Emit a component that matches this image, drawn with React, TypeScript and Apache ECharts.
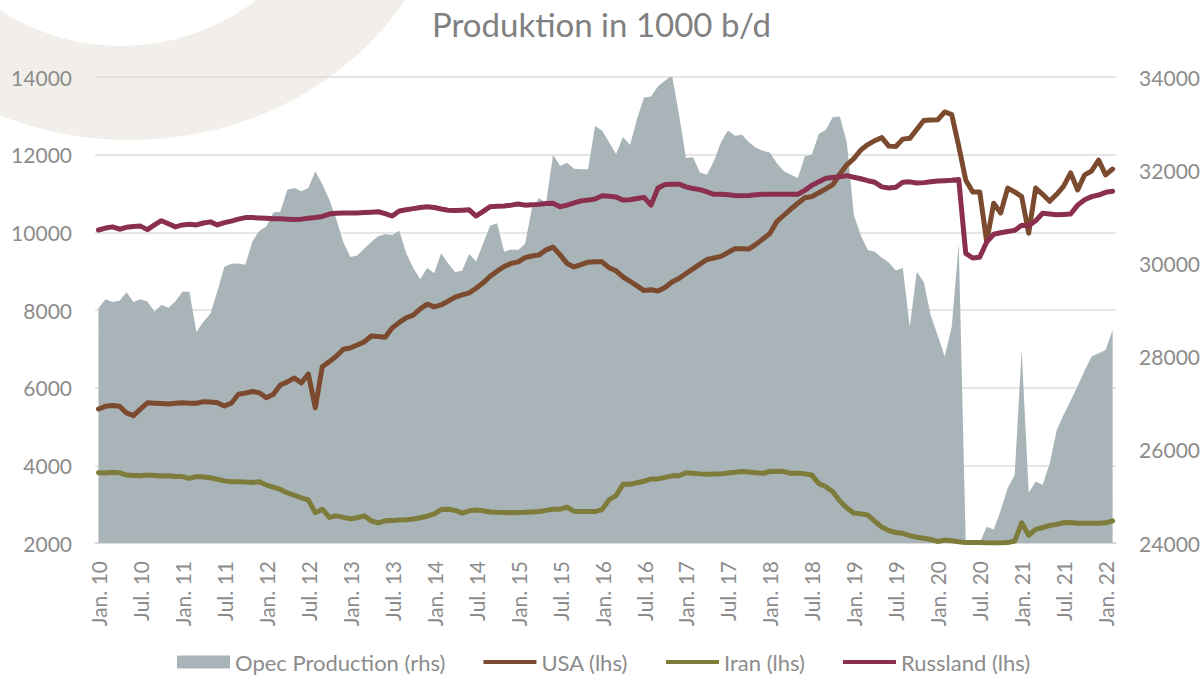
import React, { useEffect, useRef } from "react";
import * as echarts from "echarts";

const monthAbbr = ["Jan.", "Feb.", "Mrz.", "Apr.", "Mai", "Jun.", "Jul.", "Aug.", "Sep.", "Okt.", "Nov.", "Dez."];
const startYear = 10;
const monthCount = 146; // Jan 2010 .. Feb 2022
const categories: string[] = [];
for (let i = 0; i < monthCount; i++) {
  categories.push(`${monthAbbr[i % 12]} ${startYear + Math.floor(i / 12)}`);
}

const titleText = "Produktion in 1000 b/d";
const seriesNames = ["Opec Production (rhs)", "USA (lhs)", "Iran (lhs)", "Russland (lhs)"];

const opec = [
  29040, 29230, 29170, 29200, 29380, 29170, 29230, 29180, 28960, 29110,
  29050, 29190, 29390, 29390, 28530, 28750, 28920, 29400, 29930, 29990,
  30000, 29970, 30470, 30700, 30790, 31090, 31110, 31580, 31620, 31550,
  31620, 31980, 31700, 31370, 30950, 30460, 30140, 30170, 30320, 30460,
  30580, 30630, 30610, 30700, 30220, 29900, 29660, 29900, 29790, 30220,
  30000, 29810, 29850, 30200, 30040, 30430, 30810, 30860, 30250, 30300,
  30290, 30420, 31200, 31400, 31300, 32330, 32090, 32160, 32030, 32020,
  32020, 32950, 32850, 32600, 32350, 32710, 32540, 33100, 33560, 33580,
  33800, 33920, 34040, 33200, 32260, 32280, 31950, 31900, 32200, 32600,
  32850, 32740, 32760, 32600, 32480, 32420, 32380, 32150, 31980, 31900,
  31830, 32300, 32330, 32780, 32860, 33140, 33150, 32600, 31040, 30600,
  30290, 30250, 30120, 30020, 29850, 29900, 28640, 29820, 29600, 28890,
  28450, 28000, 28640, 30430, 24000, 24000, 24000, 24350, 24290, 24700,
  25180, 25460, 28140, 25080, 25320, 25250, 25700, 26420, 26750, 27050,
  27370, 27700, 28000, 28070, 28140, 28570,
];

const usa = [
  5450, 5520, 5540, 5520, 5350, 5280, 5450, 5610, 5600, 5590,
  5580, 5600, 5610, 5600, 5600, 5640, 5630, 5610, 5530, 5600,
  5830, 5860, 5900, 5870, 5740, 5830, 6070, 6150, 6250, 6120,
  6350, 5480, 6540, 6670, 6810, 6990, 7020, 7100, 7180, 7330,
  7320, 7300, 7540, 7680, 7800, 7870, 8030, 8150, 8080, 8130,
  8230, 8330, 8390, 8440, 8560, 8700, 8870, 9000, 9120, 9200,
  9240, 9350, 9390, 9420, 9550, 9620, 9420, 9200, 9110, 9170,
  9230, 9240, 9240, 9090, 9010, 8850, 8740, 8620, 8500, 8520,
  8490, 8580, 8720, 8810, 8940, 9060, 9180, 9300, 9340, 9380,
  9480, 9580, 9580, 9570, 9690, 9830, 9970, 10280, 10440, 10600,
  10750, 10890, 10920, 11020, 11120, 11230, 11500, 11740, 11900, 12120,
  12260, 12360, 12440, 12220, 12210, 12400, 12420, 12650, 12880, 12890,
  12900, 13100, 13030, 12220, 11350, 11040, 11040, 9760, 10750, 10500,
  11140, 11040, 10920, 9980, 11140, 10980, 10800, 10980, 11190, 11530,
  11090, 11480, 11580, 11860, 11480, 11630,
];

const iran = [
  3810, 3800, 3820, 3810, 3750, 3740, 3730, 3750, 3740, 3725,
  3730, 3710, 3710, 3665, 3710, 3700, 3680, 3640, 3600, 3580,
  3575, 3570, 3560, 3580, 3490, 3440, 3380, 3290, 3230, 3160,
  3110, 2780, 2870, 2660, 2700, 2660, 2625, 2650, 2700, 2570,
  2520, 2570, 2580, 2590, 2600, 2620, 2650, 2690, 2750, 2860,
  2870, 2840, 2770, 2830, 2850, 2830, 2800, 2790, 2785, 2780,
  2785, 2790, 2800, 2810, 2840, 2870, 2870, 2920, 2815, 2810,
  2810, 2810, 2860, 3110, 3220, 3510, 3510, 3550, 3590, 3650,
  3650, 3690, 3730, 3730, 3810, 3795, 3780, 3770, 3775, 3780,
  3805, 3820, 3840, 3830, 3810, 3795, 3840, 3850, 3840, 3790,
  3800, 3780, 3750, 3530, 3450, 3320, 3080, 2900, 2770, 2750,
  2720, 2560, 2410, 2320, 2270, 2250, 2190, 2150, 2120, 2090,
  2040, 2075, 2060, 2030, 2010, 2010, 2010, 2000, 2000, 2000,
  2010, 2050, 2520, 2200, 2350, 2400, 2450, 2480, 2520, 2525,
  2510, 2510, 2510, 2510, 2520, 2570,
];

const russland = [
  10060, 10110, 10140, 10080, 10130, 10150, 10160, 10070, 10190, 10300,
  10220, 10140, 10190, 10210, 10190, 10240, 10270, 10190, 10250, 10290,
  10340, 10380, 10380, 10370, 10360, 10350, 10350, 10340, 10330, 10340,
  10360, 10380, 10410, 10470, 10490, 10500, 10500, 10500, 10510, 10520,
  10530, 10480, 10420, 10550, 10580, 10610, 10640, 10660, 10640, 10600,
  10570, 10560, 10570, 10580, 10420, 10540, 10660, 10670, 10680, 10700,
  10730, 10700, 10710, 10720, 10740, 10750, 10660, 10700, 10760, 10810,
  10830, 10860, 10940, 10930, 10910, 10830, 10840, 10870, 10900, 10700,
  11140, 11230, 11240, 11240, 11170, 11130, 11100, 11040, 10980, 10980,
  10970, 10950, 10940, 10950, 10970, 10980, 10980, 10980, 10980, 10980,
  10980, 11080, 11210, 11300, 11390, 11410, 11430, 11460, 11420, 11380,
  11330, 11290, 11170, 11140, 11160, 11290, 11300, 11270, 11280, 11300,
  11320, 11330, 11340, 11360, 9460, 9340, 9360, 9750, 9950, 9990,
  10020, 10050, 10180, 10170, 10300, 10490, 10470, 10450, 10460, 10470,
  10700, 10840, 10920, 10960, 11030, 11060,
];

const FONT = "Lato, 'Liberation Sans', sans-serif";
const GREY_TEXT = "#8c8c8c";
const LINE_ICON = "path://M0,0 M0,4.5 L53,4.5 L53,8.5 L0,8.5 Z M53,13";

export default function App() {
  const ref = useRef<HTMLDivElement>(null);
  useEffect(() => {
    if (!ref.current) return;
    const chart = echarts.init(ref.current, undefined, { renderer: "svg" });
    const lineSeries = (name: string, data: number[], color: string) => ({
      name,
      type: "line",
      data,
      yAxisIndex: 0,
      symbol: "none",
      showSymbol: false,
      itemStyle: { color },
      lineStyle: { color, width: 5, cap: "round", join: "round" },
      z: 3,
    });
    chart.setOption({
      animation: false,
      backgroundColor: "#ffffff",
      textStyle: { fontFamily: FONT },
      graphic: [
        {
          type: "ellipse",
          z: -10,
          silent: true,
          shape: { cx: 130, cy: -152, rx: 322, ry: 292 },
          style: { fill: "#f2efeb" },
        },
        {
          type: "circle",
          z: -9,
          silent: true,
          shape: { cx: 121, cy: -176, r: 222 },
          style: { fill: "#ffffff" },
        },
      ],
      title: {
        text: titleText,
        left: "center",
        top: 2,
        textStyle: { fontFamily: FONT, fontSize: 33, fontWeight: "normal", color: "#808080" },
      },
      legend: {
        left: 177,
        top: 651,
        padding: 0,
        itemWidth: 53,
        itemHeight: 13,
        itemGap: 38,
        textStyle: { fontFamily: FONT, fontSize: 22, color: GREY_TEXT },
        data: [
          { name: seriesNames[0], icon: "rect" },
          { name: seriesNames[1], icon: LINE_ICON },
          { name: seriesNames[2], icon: LINE_ICON },
          { name: seriesNames[3], icon: LINE_ICON },
        ],
      },
      grid: { left: 95, right: 86, top: 77, bottom: 135, containLabel: false },
      xAxis: {
        type: "category",
        data: categories,
        boundaryGap: true,
        axisLine: { lineStyle: { color: "#d9d9d9", width: 1.5 } },
        axisTick: { interval: 5, length: 7, lineStyle: { color: "#d9d9d9", width: 1.5 } },
        axisLabel: { interval: 5, rotate: 90, margin: 18, fontSize: 21, color: GREY_TEXT, fontFamily: FONT },
        splitLine: { show: false },
      },
      yAxis: [
        {
          type: "value",
          min: 2000,
          max: 14000,
          interval: 2000,
          position: "left",
          axisLine: { show: false },
          axisTick: { show: false },
          axisLabel: {
            fontSize: 21,
            color: GREY_TEXT,
            margin: 23,
            fontFamily: FONT,
            formatter: (v: number) => String(v),
          },
          splitLine: { lineStyle: { color: "#dedede", width: 1.5 } },
        },
        {
          type: "value",
          min: 24000,
          max: 34000,
          interval: 2000,
          position: "right",
          axisLine: { show: false },
          axisTick: { show: false },
          axisLabel: {
            fontSize: 21,
            color: GREY_TEXT,
            margin: 23,
            fontFamily: FONT,
            formatter: (v: number) => String(v),
          },
          splitLine: { show: false },
        },
      ],
      series: [
        {
          name: seriesNames[0],
          type: "line",
          data: opec,
          yAxisIndex: 1,
          symbol: "none",
          showSymbol: false,
          itemStyle: { color: "#a9b4b9" },
          lineStyle: { width: 0, color: "#a9b4b9" },
          areaStyle: { color: "#a9b4b9", opacity: 1, origin: "start" },
          z: 2,
        },
        lineSeries(seriesNames[1], usa, "#7b4a2f"),
        lineSeries(seriesNames[2], iran, "#7d7c3b"),
        lineSeries(seriesNames[3], russland, "#8b2f4e"),
      ],
    });
    return () => chart.dispose();
  }, []);
  return (
    <div
      ref={ref}
      style={{ position: "fixed", left: 0, top: 0, width: 1203, height: 678, background: "#fff" }}
    />
  );
}
